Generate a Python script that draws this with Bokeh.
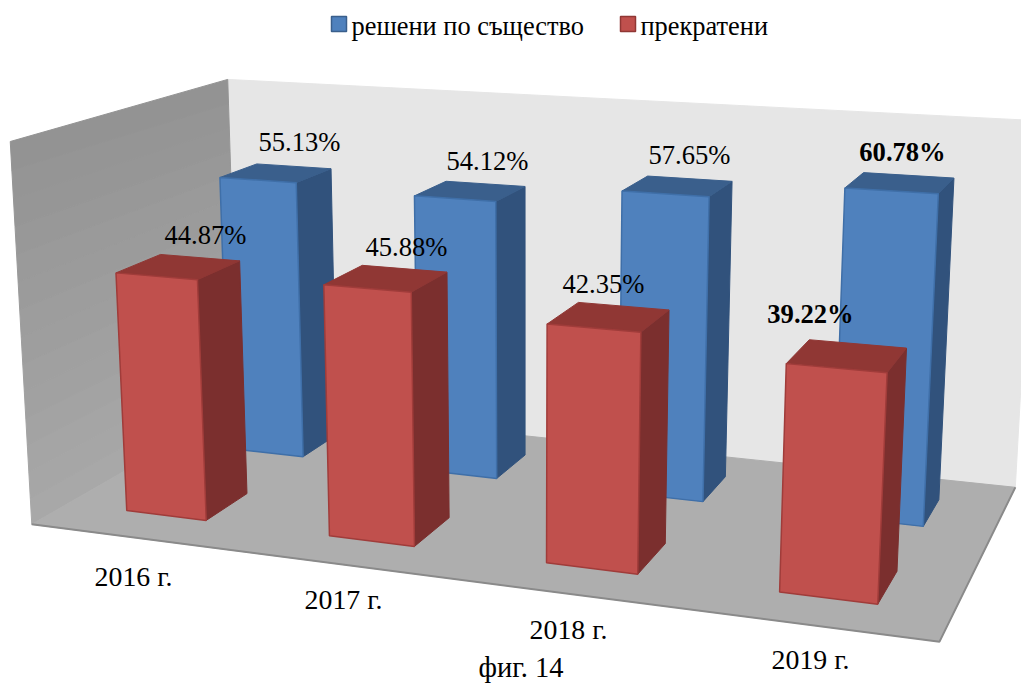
import numpy as np
from bokeh.plotting import figure
from bokeh.models import Range1d, ColumnDataSource
from bokeh.core.properties import value
from bokeh.embed import file_html
from bokeh.resources import INLINE

categories = ["2016 г.", "2017 г.", "2018 г.", "2019 г."]
solved = [55.13, 54.12, 57.65, 60.78]
stopped = [44.87, 45.88, 42.35, 39.22]
series_names = ["решени по същество", "прекратени"]
z_max = 70.0

FONT = "Liberation Serif"
FS = "26.6px"

# projection fitted to the box corners: (x, depth, z) -> screen
model_pts = np.array([[0,0,0],[1,0,0],[1,1,0],[0,1,0],[0,1,1],[1,1,1],[0,0,1]], float)
screen_pts = np.array([[32,524],[939,641],[1015,487],[237,405],[228,79],[1035,120],[9,141]], float)

rows = []
for (X, Y, Z), (u, v) in zip(model_pts, screen_pts):
    rows.append([X, Y, Z, 1, 0, 0, 0, 0, -u*X, -u*Y, -u*Z, -u])
    rows.append([0, 0, 0, 0, X, Y, Z, 1, -v*X, -v*Y, -v*Z, -v])
P = np.linalg.svd(np.array(rows))[2][-1].reshape(3, 4)

def proj(x, y, z):
    h = P @ np.array([x, y, z, 1.0])
    return float(h[0]/h[2]), float(h[1]/h[2])

def face(pts):
    q = [proj(*a) for a in pts]
    return [a[0] for a in q], [a[1] for a in q]

p = figure(width=1021, height=684, x_range=Range1d(0, 1021), y_range=Range1d(684, 0),
           x_axis_type=None, y_axis_type=None, toolbar_location=None, output_backend="svg",
           min_border=0, outline_line_color=None)
p.grid.visible = False

F = []  # xs, ys, fill, line, width
def add(pts, fill, line=None, w=1.0):
    xs, ys = face(pts)
    F.append((xs, ys, fill, line or fill, w))

# back wall
add([(0,1,0),(1,1,0),(1,1,1),(0,1,1)], "#e6e6e6")
# left wall, gradient in strips
n = 14
for i in range(n):
    a, b = i/n, (i+1)/n
    g = int(0xa9 + (0x93-0xa9)*(i+.5)/n)
    c = "#%02x%02x%02x" % (g, g, g)
    add([(0,0,a),(0,1,a),(0,1,b),(0,0,b)], c)
# floor
add([(0,0,0),(1,0,0),(1,1,0),(0,1,0)], "#aeaeae")

ncat = len(categories)
bar_w = 0.4
def bar(i, val, y0, y1, front, side, top, edge):
    x0 = (i + .5 - bar_w/2)/ncat
    x1 = (i + .5 + bar_w/2)/ncat
    z = val/z_max
    add([(x1,y0,0),(x1,y1,0),(x1,y1,z),(x1,y0,z)], side, side)
    add([(x0,y0,z),(x1,y0,z),(x1,y1,z),(x0,y1,z)], top, top)
    add([(x0,y0,0),(x1,y0,0),(x1,y0,z),(x0,y0,z)], front, edge, 1.5)

for i, val in enumerate(solved):
    bar(i, val, .655, .85, "#4f81bd", "#31527c", "#3a5f8c", "#3f6fa8")
for i, val in enumerate(stopped):
    bar(i, val, .155, .355, "#c0504d", "#7b2f2e", "#903734", "#a03c3a")

src = ColumnDataSource(dict(xs=[f[0] for f in F], ys=[f[1] for f in F], fill=[f[2] for f in F],
                            line=[f[3] for f in F], w=[f[4] for f in F]))
p.patches("xs", "ys", source=src, fill_color="fill", line_color="line", line_width="w")

bx, by = face([(0,0,0),(1,0,0),(1,1,0)])
p.line(bx, by, line_color="#8a8a8a", line_width=2)

def fmt(v):
    return f"{v:.2f}%"

solved_lab_x = [299, 487, 689, 902]
solved_lab_y = [141, 160, 154, 151]
stopped_lab_x = [205, 406, 603, 810]
stopped_lab_y = [234, 246, 283, 313]
label_style = ["normal", "normal", "normal", "bold"]
cat_x = [133, 343, 568, 810]
cat_y = [576, 599, 629, 659]

def label(xs, ys, texts, styles=None, align="center", size=FS):
    s = ColumnDataSource(dict(x=xs, y=ys, t=texts, st=styles or ["normal"]*len(xs)))
    p.text("x", "y", text="t", source=s, text_font=value(FONT), text_font_size=size,
           text_font_style="st", text_align=align, text_baseline="middle", text_color="#000000")

label(solved_lab_x, solved_lab_y, [fmt(v) for v in solved], label_style)
label(stopped_lab_x, stopped_lab_y, [fmt(v) for v in stopped], label_style)
label(cat_x, cat_y, categories, size="27.8px")
label([520.5], [667], ["фиг. 14"], size="28.5px")

# legend
p.quad(left=[331, 620], right=[346, 635], top=[16, 16], bottom=[31, 31],
       fill_color=["#4f81bd", "#c0504d"], line_color=["#3a5f8c", "#903734"], line_width=1.5)
label([351, 640], [25, 25], series_names, align="left", size="26.4px")

open("out.html", "w").write(file_html(p, INLINE))
